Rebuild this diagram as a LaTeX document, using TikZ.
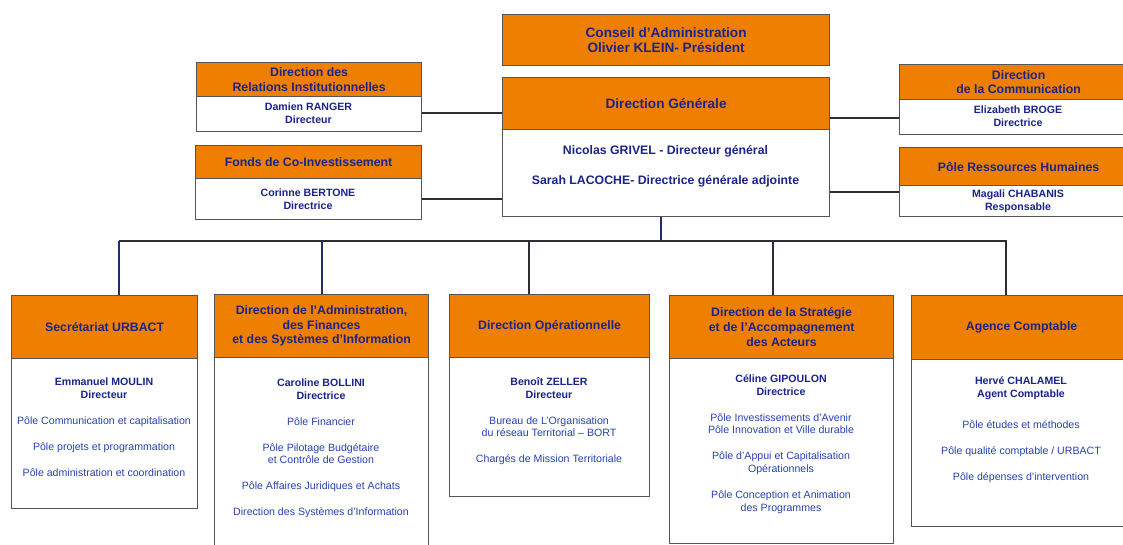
\documentclass[tikz,border=0pt]{standalone}
\usepackage{fontspec}
\setmainfont{Liberation Sans}
\definecolor{org}{RGB}{238,127,0}
\definecolor{navy}{RGB}{26,36,138}
\definecolor{pole}{RGB}{40,66,176}
\definecolor{bord}{RGB}{85,85,85}
\definecolor{conn}{RGB}{45,45,52}
\definecolor{conb}{RGB}{35,45,110}
\newcommand{\nmb}[1]{\textcolor{navy}{\textbf{#1}}}
\tikzset{
  hd/.style={draw=bord, line width=1.2pt, fill=org, inner sep=0pt, anchor=north west,
    text=navy, align=center, font=\bfseries\fontsize{12.3}{14.7}\selectfont},
  bighd/.style={hd, font=\bfseries\fontsize{13.6}{15}\selectfont},
  bd/.style={draw=bord, line width=1.2pt, fill=white, inner sep=0pt, anchor=north west},
  txt/.style={anchor=base, inner sep=0pt, text=pole, font=\fontsize{10.6}{12.7}\selectfont},
  dgtxt/.style={txt, text=navy, font=\bfseries\fontsize{12.3}{14.8}\selectfont},
  ln/.style={draw=conn, line width=1.6pt},
  lnb/.style={draw=conb, line width=1.6pt}
}
\begin{document}
\begin{tikzpicture}[x=1pt,y=-1pt]
\fill[white] (0,0) rectangle (1123,544);
\useasboundingbox (0,0) rectangle (1123,544);

% ---- top row ----
\node[bighd, minimum width=327pt, minimum height=51pt] (caH) at (502,14)
  {Conseil d’Administration\\Olivier KLEIN- Président};

\node[bd, minimum width=327pt, minimum height=87pt] (dgB) at (502,129) {};
\node[bighd, minimum width=327pt, minimum height=52pt] (dgH) at (502,77) {Direction Générale};
\node[dgtxt] (dgT) at (665.5,154.8) {\begin{tabular}[t]{@{}c@{}}Nicolas GRIVEL - Directeur général\\[15.2pt]
  Sarah LACOCHE- Directrice générale adjointe\end{tabular}};

\node[bd, minimum width=225pt, minimum height=35pt] (relB) at (196,96) {};
\node[hd, minimum width=225pt, minimum height=34pt] (relH) at (196,62) {Direction des\\Relations Institutionnelles};
\node[txt] (relT) at (308.5,110.8) {\begin{tabular}[t]{@{}c@{}}\nmb{Damien RANGER}\\\nmb{Directeur}\end{tabular}};

\node[bd, minimum width=226pt, minimum height=41pt] (fonB) at (195,178) {};
\node[hd, minimum width=226pt, minimum height=33pt] (fonH) at (195,145) {Fonds de Co-Investissement};
\node[txt] (fonT) at (308,196.8) {\begin{tabular}[t]{@{}c@{}}\nmb{Corinne BERTONE}\\\nmb{Directrice}\end{tabular}};

\node[bd, minimum width=238pt, minimum height=35pt] (comB) at (899,99) {};
\node[hd, minimum width=238pt, minimum height=35pt] (comH) at (899,64) {Direction\\de la Communication};
\node[txt] (comT) at (1018,113.8) {\begin{tabular}[t]{@{}c@{}}\nmb{Elizabeth BROGE}\\\nmb{Directrice}\end{tabular}};

\node[bd, minimum width=238pt, minimum height=31pt] (rhB) at (899,185) {};
\node[hd, minimum width=238pt, minimum height=38pt] (rhH) at (899,147) {Pôle Ressources Humaines};
\node[txt] (rhT) at (1018,197.8) {\begin{tabular}[t]{@{}c@{}}\nmb{Magali CHABANIS}\\\nmb{Responsable}\end{tabular}};

% ---- bottom row ----
\node[bd, minimum width=186pt, minimum height=150pt] (secB) at (11,358) {};
\node[hd, minimum width=186pt, minimum height=63pt] (secH) at (11,295) {Secrétariat URBACT};
\node[txt] (secT) at (104,385.3) {\begin{tabular}[t]{@{}c@{}}\nmb{Emmanuel MOULIN}\\\nmb{Directeur}\\[13.3pt]
  Pôle Communication et capitalisation\\[13.3pt]
  Pôle projets et programmation\\[13.3pt]
  Pôle administration et coordination\end{tabular}};

\node[bd, minimum width=214pt, minimum height=203pt] (dafB) at (214,357) {};
\node[hd, minimum width=214pt, minimum height=63pt] (dafH) at (214,294)
  {Direction de l’Administration,\\des Finances\\et des Systèmes d’Information};
\node[txt] (dafT) at (321,386.3) {\begin{tabular}[t]{@{}c@{}}\nmb{Caroline BOLLINI}\\\nmb{Directrice}\\[13.3pt]
  Pôle Financier\\[13.3pt]
  Pôle Pilotage Budgétaire\\et Contrôle de Gestion\\[13.3pt]
  Pôle Affaires Juridiques et Achats\\[13.3pt]
  Direction des Systèmes d’Information\end{tabular}};

\node[bd, minimum width=200pt, minimum height=139pt] (opB) at (449,357) {};
\node[hd, minimum width=200pt, minimum height=63pt] (opH) at (449,294) {Direction Opérationnelle};
\node[txt] (opT) at (549,385.3) {\begin{tabular}[t]{@{}c@{}}\nmb{Benoît ZELLER}\\\nmb{Directeur}\\[13.3pt]
  Bureau de L’Organisation\\du réseau Territorial – BORT\\[13.3pt]
  Chargés de Mission Territoriale\end{tabular}};

\node[bd, minimum width=224pt, minimum height=184.5pt] (strB) at (669,358) {};
\node[hd, minimum width=224pt, minimum height=63pt] (strH) at (669,295)
  {Direction de la Stratégie\\et de l’Accompagnement\\des Acteurs};
\node[txt] (strT) at (781,382.3) {\begin{tabular}[t]{@{}c@{}}\nmb{Céline GIPOULON}\\\nmb{Directrice}\\[13.3pt]
  Pôle Investissements d’Avenir\\Pôle Innovation et Ville durable\\[13.3pt]
  Pôle d’Appui et Capitalisation\\Opérationnels\\[13.3pt]
  Pôle Conception et Animation\\des Programmes\end{tabular}};

\node[bd, minimum width=220pt, minimum height=167pt] (agB) at (911,359) {};
\node[hd, minimum width=220pt, minimum height=64pt] (agH) at (911,295) {Agence Comptable};
\node[txt] (agT) at (1021,384.3) {\begin{tabular}[t]{@{}c@{}}\nmb{Hervé CHALAMEL}\\\nmb{Agent Comptable}\\[18.3pt]
  Pôle études et méthodes\\[13.3pt]
  Pôle qualité comptable / URBACT\\[13.3pt]
  Pôle dépenses d’intervention\end{tabular}};

% ---- connectors ----
\coordinate (busL) at (119,241);
\coordinate (busR) at (1006,241);
\coordinate (d2) at (322,241);
\coordinate (d3) at (529,241);
\coordinate (d4) at (773,241);
\coordinate (dg) at (661,241);

\draw[ln] (relB.east |- 0,113) -- (dgH.west |- 0,113);
\draw[ln] (fonB.east |- 0,199) -- (dgB.west |- 0,199);
\draw[ln] (dgH.east |- 0,118) -- (comB.west |- 0,118);
\draw[ln] (dgB.east |- 0,192) -- (rhB.west |- 0,192);

\draw[lnb] (dgB.south -| dg) -- (dg);
\draw[ln] (busL) -- (busR) -- (busR |- agH.north);
\draw[lnb] (busL) -- (busL |- secH.north);
\draw[lnb] (d2) -- (d2 |- dafH.north);
\draw[ln] (d3) -- (d3 |- opH.north);
\draw[ln] (d4) -- (d4 |- strH.north);
\end{tikzpicture}
\end{document}
